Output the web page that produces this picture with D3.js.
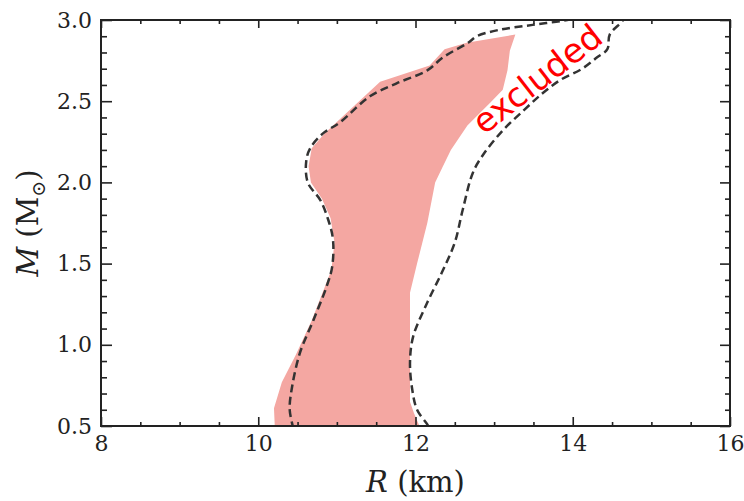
<!DOCTYPE html>
<html>
<head>
<meta charset="utf-8">
<script src="https://cdn.jsdelivr.net/npm/d3@7"></script>
<style>
  body { margin: 0; background: #fff; }
  .tick text { font-family: "DejaVu Serif", serif; font-size: 22px; fill: #222; }
  .tick line { stroke: #222; stroke-width: 1.6; }
  .domain { display: none; }
  .title { font-family: "DejaVu Serif", serif; font-size: 29px; fill: #222; }
</style>
</head>
<body>
<script>
// allowed region (pink band), traced clockwise: left edge up, right edge down
const bandR = [10.21, 10.20, 10.30, 10.48, 10.68, 10.85, 10.93, 10.97, 10.92, 10.81, 10.67, 10.64, 10.68, 10.84, 11.04, 11.55, 12.18, 12.37, 12.65, 13.27,
               13.20, 13.17, 13.11, 12.95, 12.66, 12.45, 12.34, 12.25, 12.15, 12.02, 11.93, 11.93, 11.93, 11.98, 12.05];
const bandM = [0.50, 0.61, 0.77, 0.94, 1.15, 1.36, 1.46, 1.63, 1.78, 1.90, 2.00, 2.10, 2.21, 2.30, 2.39, 2.62, 2.72, 2.82, 2.86, 2.91,
               2.81, 2.69, 2.57, 2.49, 2.35, 2.20, 2.09, 2.00, 1.75, 1.50, 1.32, 0.95, 0.65, 0.58, 0.50];

// dashed contour: from bottom-left, up over the top, down to bottom-right
const contR = [10.45, 10.40, 10.43, 10.53, 10.70, 10.87, 10.94, 10.95, 10.89, 10.79, 10.63, 10.61, 10.66, 10.82, 11.04, 11.42, 11.76, 12.15, 12.35, 12.67, 12.78, 13.07, 13.49, 13.93, 14.28,
               14.66, 14.64, 14.47, 14.44, 14.31, 14.12, 13.84, 13.62, 13.39, 13.11, 12.86, 12.73, 12.60, 12.50, 12.35, 12.15, 11.97, 11.93, 11.96, 12.02, 12.15, 12.20];
const contM = [0.48, 0.60, 0.74, 0.95, 1.15, 1.36, 1.48, 1.65, 1.77, 1.89, 2.00, 2.13, 2.21, 2.30, 2.37, 2.53, 2.61, 2.69, 2.77, 2.86, 2.90, 2.94, 2.97, 3.00, 3.04,
               3.04, 3.00, 2.91, 2.82, 2.77, 2.70, 2.63, 2.55, 2.45, 2.32, 2.17, 2.06, 1.83, 1.63, 1.46, 1.26, 1.05, 0.89, 0.72, 0.60, 0.51, 0.47];

const xMajor = [8, 10, 12, 14, 16];
const xMinor = [8.5, 9, 9.5, 10.5, 11, 11.5, 12.5, 13, 13.5, 14.5, 15, 15.5];
const yMajor = [0.5, 1.0, 1.5, 2.0, 2.5, 3.0];
const yMinor = d3.range(6, 30).filter(d => d % 5 !== 0).map(d => d / 10);

const W = 744, H = 501;
const margin = {top: 20, right: 14, bottom: 75, left: 101};
const w = W - margin.left - margin.right;
const h = H - margin.top - margin.bottom;

const svg = d3.select("body").append("svg")
    .attr("width", W)
    .attr("height", H);

const g = svg.append("g").attr("transform", `translate(${margin.left},${margin.top})`);

const x = d3.scaleLinear().domain([8, 16]).range([0, w]);
const y = d3.scaleLinear().domain([0.5, 3]).range([h, 0]);

svg.append("defs").append("clipPath").attr("id", "clip")
  .append("rect").attr("width", w).attr("height", h);

const plot = g.append("g").attr("clip-path", "url(#clip)");

const band = bandR.map((r, i) => [r, bandM[i]]);
plot.append("path")
    .datum(band)
    .attr("fill", "#f4a7a2")
    .attr("d", d3.line().x(d => x(d[0])).y(d => y(d[1])).curve(d3.curveLinearClosed));

const cont = contR.map((r, i) => [r, contM[i]]);
const contLine = d3.line().x(d => x(d[0])).y(d => y(d[1])).curve(d3.curveCatmullRom.alpha(0.5));
plot.append("path")
    .datum(cont)
    .attr("fill", "none")
    .attr("stroke", "#333")
    .attr("stroke-width", 2.5)
    .attr("stroke-dasharray", "8,4.5")
    .attr("d", contLine);

// "excluded" label
g.append("text")
    .attr("transform", `translate(${x(13.64)},${y(2.58)}) rotate(-38)`)
    .attr("text-anchor", "middle")
    .attr("font-family", "DejaVu Sans, sans-serif")
    .attr("font-size", 34)
    .attr("fill", "#ff0000")
    .text("excluded");

// axes: inward ticks on all four sides
g.append("g").attr("transform", `translate(0,${h})`)
    .call(d3.axisBottom(x).tickValues(xMajor).tickSize(-9).tickPadding(9).tickFormat(d3.format("d")));
g.append("g").attr("transform", `translate(0,${h})`)
    .call(d3.axisBottom(x).tickValues(xMinor).tickSize(-4).tickFormat(""));
g.append("g")
    .call(d3.axisTop(x).tickValues(xMajor).tickSize(-8).tickFormat(""));
g.append("g")
    .call(d3.axisTop(x).tickValues(xMinor).tickSize(-4).tickFormat(""));

g.append("g")
    .call(d3.axisLeft(y).tickValues(yMajor).tickSize(-11).tickPadding(9).tickFormat(d3.format(".1f")));
g.append("g")
    .call(d3.axisLeft(y).tickValues(yMinor).tickSize(-6).tickFormat(""));
g.append("g").attr("transform", `translate(${w},0)`)
    .call(d3.axisRight(y).tickValues(yMajor).tickSize(-10).tickFormat(""));
g.append("g").attr("transform", `translate(${w},0)`)
    .call(d3.axisRight(y).tickValues(yMinor).tickSize(-5).tickFormat(""));

g.append("rect")
    .attr("width", w).attr("height", h)
    .attr("fill", "none")
    .attr("stroke", "#222")
    .attr("stroke-width", 2);

// axis titles
const xt = svg.append("text")
    .attr("class", "title")
    .attr("x", margin.left + w / 2)
    .attr("y", 492)
    .attr("text-anchor", "middle");
xt.append("tspan").attr("font-style", "italic").text("R");
xt.append("tspan").text(" (km)");

const yt = svg.append("text")
    .attr("class", "title")
    .attr("transform", `translate(38,${margin.top + h / 2}) rotate(-90)`)
    .attr("text-anchor", "middle");
yt.append("tspan").attr("font-style", "italic").text("M");
yt.append("tspan").text(" (M");
yt.append("tspan").style("font-size", "19px").attr("dy", 7).text("⊙");
yt.append("tspan").attr("dy", -7).text(")");
</script>
</body>
</html>
